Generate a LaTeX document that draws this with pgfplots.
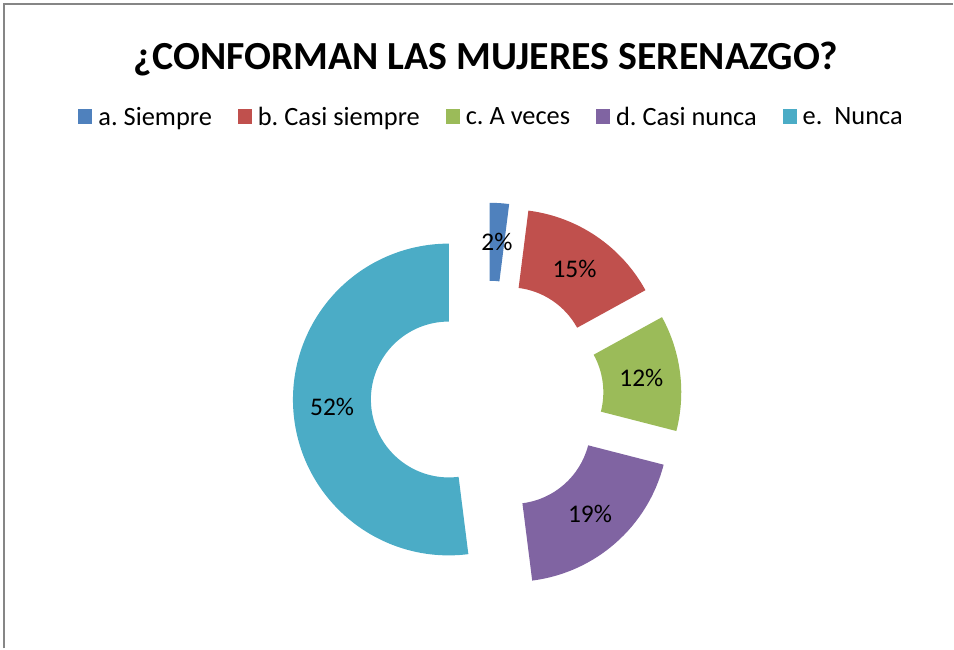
\documentclass[border=0pt]{standalone}
\usepackage{pgfplots}
\pgfplotsset{compat=1.18}
\usepackage{pgfplotstable}
\usepackage{fontspec}
\setmainfont{Carlito}
\frenchspacing
\definecolor{cA}{HTML}{4F81BD}
\definecolor{cB}{HTML}{C0504D}
\definecolor{cC}{HTML}{9BBB59}
\definecolor{cD}{HTML}{8064A2}
\definecolor{cE}{HTML}{4BACC6}
\definecolor{frame}{HTML}{868686}
\pgfplotstableread{
id val
0 2
1 15
2 12
3 19
4 52
}\datatable
\pgfplotsset{sqlegend/.style={legend image code/.code={\fill[##1, draw=none] (0bp,-7bp) rectangle (14bp,7.5bp);}}}
\begin{document}
\begin{tikzpicture}
\begin{axis}[scale only axis, width=954bp, height=649bp,
  xmin=0, xmax=954, ymin=0, ymax=649, hide axis, clip=false,
  legend columns=5,
  legend style={draw=none, fill=none, at={(axis cs:491.5,532)}, anchor=center,
    font=\fontsize{26.5}{31}\selectfont,
    nodes={inner xsep=1bp, inner ysep=0bp},
    /tikz/every odd column/.append style={column sep=5bp},
    /tikz/every even column/.append style={column sep=25bp}},
]
\path (axis cs:0,0) rectangle (axis cs:954,649);
\addlegendimage{sqlegend, fill=cA}\addlegendentry{a. Siempre}
\addlegendimage{sqlegend, fill=cB}\addlegendentry{b. Casi siempre}
\addlegendimage{sqlegend, fill=cC}\addlegendentry{c. A veces}
\addlegendimage{sqlegend, fill=cD}\addlegendentry{d. Casi nunca}
\addlegendimage{sqlegend, fill=cE}\addlegendentry{e.\ \ Nunca}
\pgfplotsextra{
  \gdef\cum{0}
  \foreach \i/\col in {0/cA,1/cB,2/cC,3/cD,4/cE}{
    \pgfplotstablegetelem{\i}{val}\of\datatable
    \let\v\pgfplotsretval
    \pgfmathsetmacro\aone{\cum*3.6}
    \pgfmathsetmacro\atwo{(\cum+\v)*3.6}
    \pgfmathsetmacro\amid{(\aone+\atwo)/2}
    \pgfmathsetmacro\cx{487.6+38.5*sin(\amid)}
    \pgfmathsetmacro\cy{251.6+38.5*cos(\amid)}
    \fill[\col] (axis cs:{\cx+156*sin(\aone)},{\cy+156*cos(\aone)})
      arc[start angle={90-\aone}, end angle={90-\atwo}, radius=156bp]
      -- (axis cs:{\cx+78*sin(\atwo)},{\cy+78*cos(\atwo)})
      arc[start angle={90-\atwo}, end angle={90-\aone}, radius=78bp] -- cycle;
    \node[font=\fontsize{25.5}{30}\selectfont, inner sep=0pt] at (axis cs:{\cx+117*sin(\amid)},{\cy+117*cos(\amid)}) {\v\%};
    \pgfmathsetmacro\newcum{\cum+\v}
    \xdef\cum{\newcum}
  }
}
\draw[frame, line width=1.5bp] (axis cs:4,0) -- (axis cs:4,645) -- (axis cs:954,645);
\node[font=\fontsize{40}{48}\selectfont\bfseries, anchor=base, inner sep=0pt] at (axis cs:486.5,579) {¿CONFORMAN LAS MUJERES SERENAZGO?};
\end{axis}
\end{tikzpicture}
\end{document}
